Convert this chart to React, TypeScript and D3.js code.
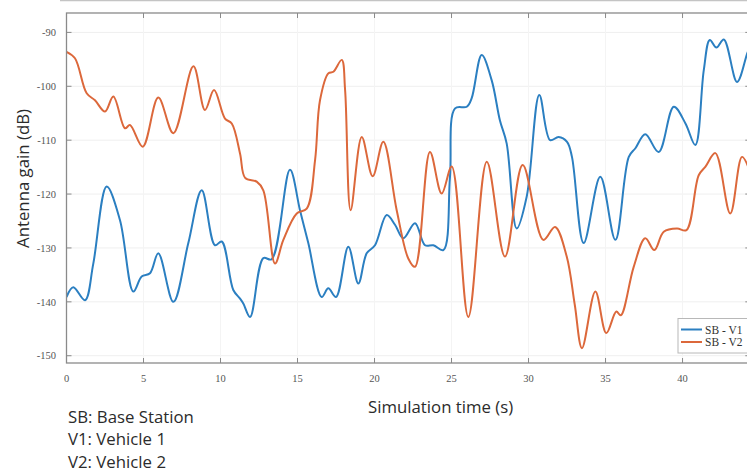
import React from "react";
import * as d3 from "d3";

// Antenna gain between the base station (SB) and two vehicles over simulation time
const v1Time = [0, 0.44, 1.2, 1.74, 2.61, 3.47, 4.34, 4.88, 5.42, 5.96, 6.94, 7.91, 8.78, 9.64, 10.08, 10.83, 11.27, 11.48, 11.92, 12.78, 13.32, 14.51, 15.16, 15.7, 16.57, 17.0, 17.5, 18.3, 18.95, 19.49, 20.03, 20.79, 21.33, 21.87, 22.63, 23.28, 23.82, 24.47, 24.9, 25.23, 25.99, 26.31, 26.96, 27.61, 28.14, 28.58, 29.23, 29.88, 30.7, 31.4, 31.95, 32.5, 32.82, 33.58, 34.66, 35.64, 36.51, 36.94, 37.58, 38.45, 39.43, 40.19, 40.83, 41.38, 41.77, 42.2, 42.68, 43.54, 44.2, 44.4];
const v1Gain = [-139.1, -137.3, -139.7, -132.9, -118.6, -124.8, -138.1, -135.3, -134.7, -131, -140, -129.1, -119.3, -129.5, -128.8, -137.8, -139.4, -140.3, -142.8, -131.9, -132.1, -115.5, -123, -129.1, -139.1, -137.5, -139.1, -129.8, -136.6, -131, -129.5, -123.9, -125.7, -128.2, -125.4, -129.5, -129.5, -130.4, -116.8, -104.1, -103.8, -102.2, -94.2, -98.9, -106.3, -110.6, -126.4, -120.5, -101.6, -110, -109.4, -110.3, -113.1, -129.1, -116.8, -128.5, -113.1, -111.5, -108.9, -112.2, -103.8, -106.9, -110.9, -97, -91.4, -92.8, -91.3, -99.2, -93.9, -92.5];

const v2Time = [0, 0.55, 1.31, 1.85, 2.5, 3.04, 3.8, 4.12, 4.95, 5.96, 6.94, 8.24, 8.99, 9.58, 10.29, 10.73, 11.27, 11.6, 12.35, 12.78, 13.54, 14.08, 14.95, 15.6, 16.14, 16.46, 17.0, 17.33, 17.87, 18.09, 18.45, 19.17, 19.88, 20.57, 21.44, 22.2, 22.63, 23.6, 24.36, 25.01, 26.09, 27.29, 28.47, 29.62, 30.96, 31.72, 32.48, 33.0, 33.47, 34.34, 35.05, 35.7, 35.99, 36.83, 37.58, 38.17, 38.78, 39.64, 40.25, 41.05, 41.49, 42.13, 43.1, 43.86, 44.4];
const v2Gain = [-93.6, -94.8, -101.3, -102.6, -104.7, -101.9, -107.8, -107.2, -111.2, -102.1, -108.7, -96.3, -104.4, -100.7, -106, -106.9, -112.5, -117, -117.7, -119.3, -132.9, -128.5, -123.6, -122.7, -113.7, -102.6, -97.6, -97.3, -95.1, -100.7, -123, -109.4, -116.7, -110.3, -123, -132, -133.5, -112.2, -119.9, -114.9, -142.8, -114, -131.6, -114.6, -128.5, -126.1, -131.6, -140.5, -148.6, -138.1, -145.8, -141.8, -142.5, -133.5, -128.2, -130.4, -127, -126.4, -126.7, -116.5, -114.9, -112.4, -123.6, -113.1, -116];

const xTicks = [0, 5, 10, 15, 20, 25, 30, 35, 40];
const yTicks = [-90, -100, -110, -120, -130, -140, -150];
const seriesNames = ["SB - V1", "SB - V2"];
const notes = ["SB: Base Station", "V1: Vehicle 1", "V2: Vehicle 2"];

const W = 747;
const H = 474;
const plot = { left: 66.5, right: 750.3, top: 13, bottom: 363 };
const colors = ["#2b7fc1", "#dc683b"];
const serif = "'Liberation Serif', 'DejaVu Serif', serif";
const sans = "'Open Sans', 'Noto Sans', sans-serif";
const labelSize = 16.8;
const labelColor = "#2b2b2b";

export default function App() {
  const x = d3.scaleLinear().domain([0, 44.4]).range([plot.left, plot.right]);
  const y = d3.scaleLinear().domain([-151.35, -86.4]).range([plot.bottom, plot.top]);

  const line = d3
    .line<[number, number]>()
    .x((d) => x(d[0]))
    .y((d) => y(d[1]))
    .curve(d3.curveCatmullRom.alpha(0.5));

  const s1 = v1Time.map((t, i) => [t, v1Gain[i]] as [number, number]);
  const s2 = v2Time.map((t, i) => [t, v2Gain[i]] as [number, number]);

  const axisColor = "#8a8a8a";
  const tickLen = 5;

  return (
    <svg
      width={W}
      height={H}
      style={{ position: "absolute", left: 0, top: 0, background: "#fff" }}
    >
      <defs>
        <clipPath id="plot-clip">
          <rect x={plot.left} y={plot.top} width={plot.right - plot.left} height={plot.bottom - plot.top} />
        </clipPath>
      </defs>
      <rect width={W} height={H} fill="#fff" />
      <line x1={60} x2={W} y1={0.5} y2={0.5} stroke="#c4c4c4" strokeWidth={1.5} />

      {/* grid */}
      {yTicks.map((v) => (
        <line key={"gy" + v} x1={plot.left} x2={plot.right} y1={y(v)} y2={y(v)} stroke="#efefef" strokeWidth={1} />
      ))}
      {xTicks.map((v) => (
        <line key={"gx" + v} x1={x(v)} x2={x(v)} y1={plot.top} y2={plot.bottom} stroke="#f4f4f4" strokeWidth={1} />
      ))}

      {/* series */}
      <g clipPath="url(#plot-clip)" fill="none" strokeWidth={2} strokeLinejoin="round">
        <path d={line(s1) || ""} stroke={colors[0]} />
        <path d={line(s2) || ""} stroke={colors[1]} />
      </g>

      {/* axes box */}
      <rect
        x={plot.left}
        y={plot.top}
        width={plot.right - plot.left}
        height={plot.bottom - plot.top}
        fill="none"
        stroke={axisColor}
        strokeWidth={1.3}
      />
      {xTicks.map((v) => (
        <g key={"xt" + v}>
          <line x1={x(v)} x2={x(v)} y1={plot.bottom} y2={plot.bottom - tickLen} stroke={axisColor} />
          <line x1={x(v)} x2={x(v)} y1={plot.top} y2={plot.top + tickLen} stroke={axisColor} />
          <text x={x(v)} y={plot.bottom + 19} textAnchor="middle" fontFamily={serif} fontSize={10.5} fill="#555">
            {v}
          </text>
        </g>
      ))}
      {yTicks.map((v) => (
        <g key={"yt" + v}>
          <line x1={plot.left} x2={plot.left + tickLen} y1={y(v)} y2={y(v)} stroke={axisColor} />
          <line x1={plot.right} x2={plot.right - tickLen} y1={y(v)} y2={y(v)} stroke={axisColor} />
          <text x={56} y={y(v)} dy="0.35em" textAnchor="end" fontFamily={serif} fontSize={10.5} fill="#555">
            {v}
          </text>
        </g>
      ))}

      {/* legend */}
      <rect x={678} y={318.5} width={90} height={34.5} fill="#fff" stroke="#b8b8b8" strokeWidth={1} />
      {seriesNames.map((name, i) => (
        <g key={name}>
          <line x1={681} x2={702} y1={329.5 + i * 12.5} y2={329.5 + i * 12.5} stroke={colors[i]} strokeWidth={2} />
          <text x={705} y={329.5 + i * 12.5} dy="0.35em" fontFamily={serif} fontSize={11.5} fill="#333">
            {name}
          </text>
        </g>
      ))}

      {/* axis titles */}
      <text
        transform={`translate(29, 178.5) rotate(-90)`}
        textAnchor="middle"
        fontFamily={sans}
        fontSize={labelSize}
        fill={labelColor}
      >
        Antenna gain (dB)
      </text>
      <text x={368} y={413} fontFamily={sans} fontSize={labelSize} fill={labelColor}>
        Simulation time (s)
      </text>

      {/* abbreviations */}
      {notes.map((n, i) => (
        <text key={n} x={68} y={422.5 + i * 22.5} fontFamily={sans} fontSize={labelSize} fill={labelColor}>
          {n}
        </text>
      ))}
    </svg>
  );
}
